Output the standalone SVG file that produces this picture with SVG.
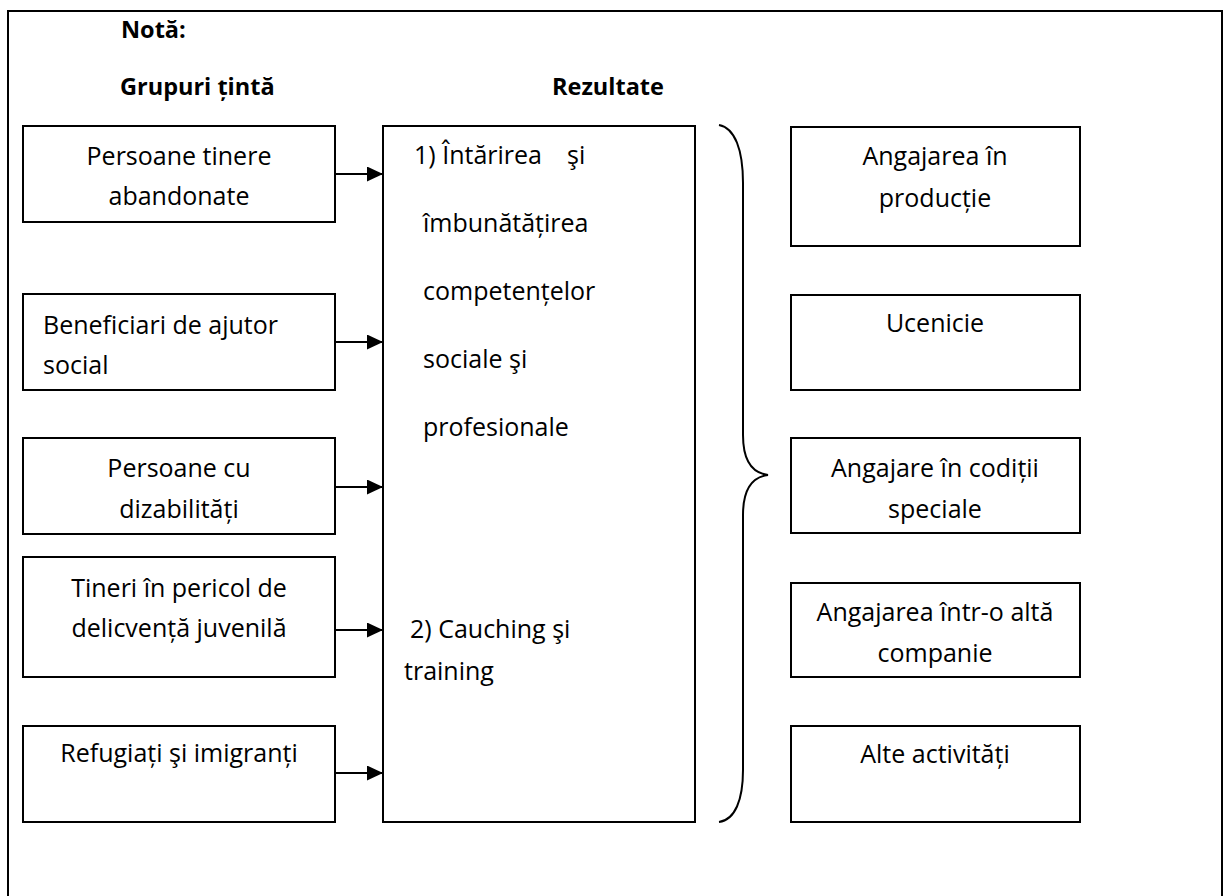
<svg xmlns="http://www.w3.org/2000/svg" width="1231" height="896" viewBox="0 0 1231 896">
<defs>
<style>
.box{fill:#fff;stroke:#000;stroke-width:2}
.t{font-family:"Open Sans","Noto Sans","Liberation Sans",sans-serif;font-size:25px;fill:#000}
.c{text-anchor:middle}
.h{font-family:"Open Sans","Noto Sans","Liberation Sans",sans-serif;font-size:23.5px;font-weight:bold;fill:#000}
.conn{stroke:#000;stroke-width:2;fill:none}
</style>
<marker id="arr" viewBox="0 0 16 15" refX="16" refY="7.5" markerWidth="16" markerHeight="15" markerUnits="userSpaceOnUse" orient="auto">
<path d="M0,0 L16,7.5 L0,15 Z" fill="#000"/>
</marker>
</defs>
<rect width="1231" height="896" fill="#fff"/>
<path d="M8,896 V11 H1222 V896" fill="none" stroke="#000" stroke-width="2"/>
<g id="headings">
<text class="h" x="121" y="38">Notă:</text>
<text class="h" x="120" y="95">Grupuri țintă</text>
<text class="h" x="552" y="95">Rezultate</text>
</g>
<g id="g1"><rect class="box" x="23" y="126" width="312" height="96"/>
<text class="t c" x="179" y="165">Persoane tinere</text><text class="t c" x="179" y="205">abandonate</text></g>
<g id="g2"><rect class="box" x="23" y="294" width="312" height="96"/>
<text class="t" x="43" y="334">Beneficiari de ajutor</text><text class="t" x="43" y="374">social</text></g>
<g id="g3"><rect class="box" x="23" y="438" width="312" height="96"/>
<text class="t c" x="179" y="477">Persoane cu</text><text class="t c" x="179" y="518">dizabilități</text></g>
<g id="g4"><rect class="box" x="23" y="557" width="312" height="120"/>
<text class="t c" x="179" y="597">Tineri în pericol de</text><text class="t c" x="179" y="637">delicvență juvenilă</text></g>
<g id="g5"><rect class="box" x="23" y="726" width="312" height="96"/>
<text class="t c" x="179" y="762">Refugiați şi imigranți</text></g>
<g id="results"><rect class="box" x="383" y="126" width="312" height="696"/>
<text class="t" x="414" y="164">1) Întărirea</text><text class="t" x="567" y="164">şi</text>
<text class="t" x="423" y="232">îmbunătățirea</text>
<text class="t" x="423" y="300">competențelor</text>
<text class="t" x="423" y="368">sociale şi</text>
<text class="t" x="423" y="436">profesionale</text>
<text class="t" x="410" y="638">2) Cauching şi</text>
<text class="t" x="404" y="680">training</text></g>
<g id="r1"><rect class="box" x="791" y="127" width="289" height="119"/>
<text class="t c" x="935" y="165">Angajarea în</text><text class="t c" x="935" y="207">producție</text></g>
<g id="r2"><rect class="box" x="791" y="295" width="289" height="95"/>
<text class="t c" x="935" y="332">Ucenicie</text></g>
<g id="r3"><rect class="box" x="791" y="438" width="289" height="95"/>
<text class="t c" x="935" y="477">Angajare în codiții</text><text class="t c" x="935" y="518">speciale</text></g>
<g id="r4"><rect class="box" x="791" y="583" width="289" height="94"/>
<text class="t c" x="935" y="621">Angajarea într-o altă</text><text class="t c" x="935" y="662">companie</text></g>
<g id="r5"><rect class="box" x="791" y="726" width="289" height="96"/>
<text class="t c" x="935" y="763">Alte activități</text></g>
<g id="connectors">
<line class="conn" x1="335" y1="174" x2="383" y2="174" marker-end="url(#arr)"/>
<line class="conn" x1="335" y1="342" x2="383" y2="342" marker-end="url(#arr)"/>
<line class="conn" x1="335" y1="487" x2="383" y2="487" marker-end="url(#arr)"/>
<line class="conn" x1="335" y1="630" x2="383" y2="630" marker-end="url(#arr)"/>
<line class="conn" x1="335" y1="773" x2="383" y2="773" marker-end="url(#arr)"/>
<path class="conn" stroke-width="1.6" d="M719,125 C735,128 743,150 743,183 L743,435 C743,460 752,473 768,475 C752,477 743,490 743,515 L743,770 C743,800 735,820 719,822"/>
</g>
</svg>
